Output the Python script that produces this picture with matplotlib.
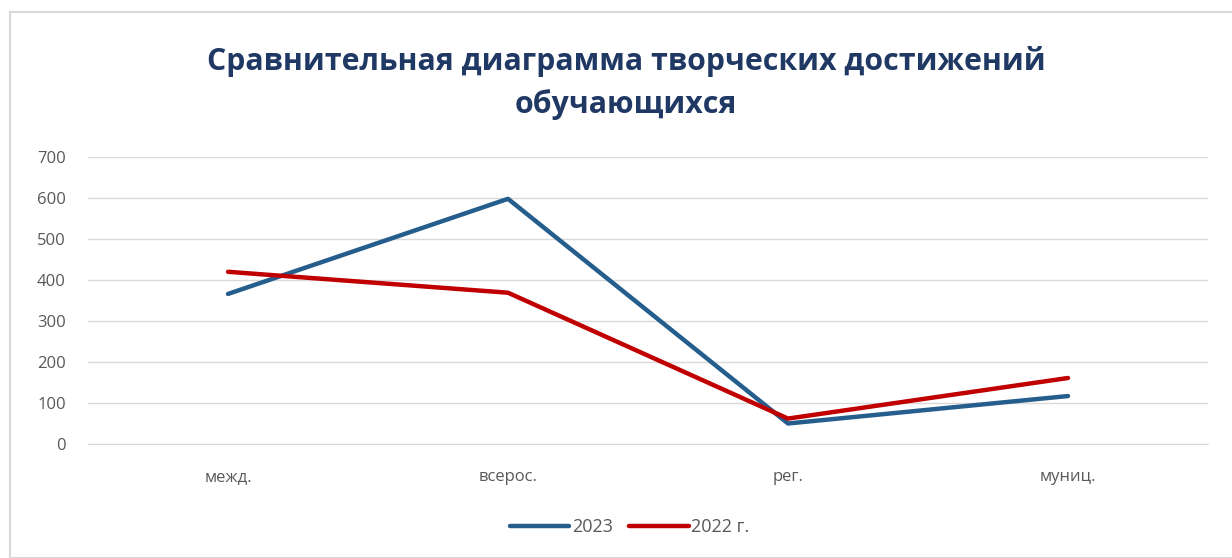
import matplotlib.pyplot as plt
from matplotlib.patches import Rectangle

plt.rcParams['font.family'] = ['Open Sans', 'DejaVu Sans']

# Data
categories = ['межд.', 'всерос.', 'рег.', 'муниц.']
values_2023 = [366, 598, 50, 117]
values_2022 = [420, 369, 62, 161]
series_names = ['2023', '2022 г.']
y_ticks = [0, 100, 200, 300, 400, 500, 600, 700]

fig = plt.figure(figsize=(12.32, 5.58), dpi=100)
ax = fig.add_axes([88 / 1232, 1 - 444 / 558, 1120 / 1232, 287 / 558])

# Chart border
fig.patches.append(Rectangle((10 / 1232, 0), 1.2, 1 - 12 / 558, transform=fig.transFigure,
                             fill=False, edgecolor='#d9d9d9', linewidth=1.5))

x = range(len(categories))
ax.plot(x, values_2023, color='#255E8C', linewidth=3.2, label=series_names[0],
        solid_capstyle='round', solid_joinstyle='round', zorder=3)
ax.plot(x, values_2022, color='#C00000', linewidth=3.2, label=series_names[1],
        solid_capstyle='round', solid_joinstyle='round', zorder=3)

ax.set_xlim(-0.5, 3.5)
ax.set_ylim(0, 700)
ax.set_yticks(y_ticks)
ax.set_xticks(list(x))
ax.set_xticklabels(categories)
ax.grid(axis='y', color='#d9d9d9', linewidth=1)
ax.set_axisbelow(True)
for s in ax.spines.values():
    s.set_visible(False)
ax.spines['bottom'].set_visible(True)
ax.spines['bottom'].set_color('#d9d9d9')
ax.tick_params(axis='both', length=0, labelsize=12, labelcolor='#595959')
ax.tick_params(axis='x', pad=18)
ax.tick_params(axis='y', pad=16)

fig.text(0.5 + 10 / 1232, 1 - 83 / 558, 'Сравнительная диаграмма творческих достижений\nобучающихся',
         ha='center', va='center', fontsize=21.8, fontweight='bold', color='#203864',
         linespacing=1.5)

fig.legend(loc='center', bbox_to_anchor=(0.511, 1 - 527 / 558), ncol=2, frameon=False,
           fontsize=13, labelcolor='#595959', handlelength=3.3, handletextpad=0.15,
           columnspacing=0.9)

fig.savefig('out.png', dpi=100)
